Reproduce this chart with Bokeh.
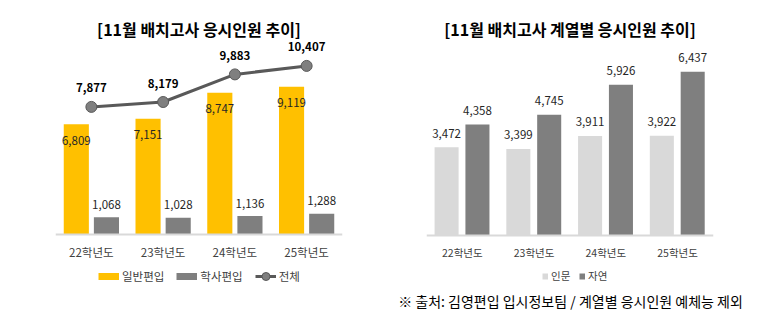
from bokeh.plotting import figure
from bokeh.models import ColumnDataSource, Label, Legend, LegendItem, FactorRange, Range1d
from bokeh.transform import dodge
from bokeh.layouts import row, column
from bokeh.core.properties import value
from bokeh.embed import file_html
from bokeh.resources import INLINE

FONT = "Noto Sans CJK KR"

years = ["22학년도", "23학년도", "24학년도", "25학년도"]
general = [6809, 7151, 8747, 9119]
bachelor = [1068, 1028, 1136, 1288]
total = [7877, 8179, 9883, 10407]
humanities = [3472, 3399, 3911, 3922]
natural = [4358, 4745, 5926, 6437]

title_left = "[11월 배치고사 응시인원 추이]"
title_right = "[11월 배치고사 계열별 응시인원 추이]"
footnote = "※ 출처: 김영편입 입시정보팀 / 계열별 응시인원 예체능 제외"

YELLOW = "#FFC000"
GRAY = "#7F7F7F"
LIGHT = "#D9D9D9"
LINE = "#595959"
TXT = "#262626"
NAN = float("nan")

fmt = lambda v: f"{v:,}"

src1 = ColumnDataSource(dict(
    year=years, general=general, bachelor=bachelor, total=total,
    general_lbl=[fmt(v) for v in general],
    bachelor_lbl=[fmt(v) for v in bachelor],
    total_lbl=[fmt(v) for v in total],
))
src2 = ColumnDataSource(dict(
    year=years, hum=humanities, nat=natural,
    hum_lbl=[fmt(v) for v in humanities],
    nat_lbl=[fmt(v) for v in natural],
))
# legend-only source (nothing drawn in the plot area)
src_leg = ColumnDataSource(dict(year=years, none=[NAN] * len(years)))

H = 290      # chart height
FH = 33      # footnote strip height


def base_fig(y0, y1, left, right, tick_size):
    p = figure(x_range=FactorRange(*years, range_padding=0), y_range=Range1d(y0, y1),
               width=385, height=H, output_backend="svg", toolbar_location=None,
               y_axis_location=None, min_border_left=left, min_border_right=right,
               min_border_top=0, min_border_bottom=0)
    p.xgrid.visible = False
    p.ygrid.visible = False
    p.outline_line_color = None
    ax = p.xaxis[0]
    ax.fixed_location = 0
    ax.axis_line_color = LIGHT
    ax.axis_line_width = 2
    ax.major_tick_line_color = None
    ax.minor_tick_line_color = None
    ax.major_tick_out = 0
    ax.major_label_standoff = 9
    ax.major_label_text_font = FONT
    ax.major_label_text_font_size = tick_size
    ax.major_label_text_color = "#404040"
    return p


# ---------------- left chart ----------------
BASE1 = 234          # baseline, px from top
PX1 = 16.2 / 1000    # px per person
p1 = base_fig(-(H - BASE1) / PX1, BASE1 / PX1, 55, 43, "11.5px")

r_gen = p1.vbar(x=dodge("year", -0.21, range=p1.x_range), top="general", width=0.35,
                source=src1, fill_color=YELLOW, line_color=None)
r_bach = p1.vbar(x=dodge("year", 0.21, range=p1.x_range), top="bachelor", width=0.35,
                 source=src1, fill_color=GRAY, line_color=None)
r_line = p1.line(x="year", y="total", source=src1, line_color=LINE, line_width=3)
r_pts = p1.scatter(x="year", y="total", source=src1, size=11, fill_color=GRAY,
                   line_color=LINE, line_width=1)

p1.text(x=dodge("year", -0.21, range=p1.x_range), y="general", text="general_lbl", source=src1,
        text_align="center", text_baseline="middle", y_offset=16,
        text_font=value(FONT), text_font_size=value("11.5px"), text_color=TXT)
p1.text(x=dodge("year", 0.21, range=p1.x_range), y="bachelor", text="bachelor_lbl", source=src1,
        text_align="center", text_baseline="middle", y_offset=-13,
        text_font=value(FONT), text_font_size=value("11.5px"), text_color=TXT)
p1.text(x="year", y="total", text="total_lbl", source=src1,
        text_align="center", text_baseline="middle", y_offset=-19,
        text_font=value(FONT), text_font_size=value("11.5px"), text_font_style="bold",
        text_color="#000000")

p1.add_layout(Label(x=2, y=(BASE1 - 28) / PX1, text=title_left, text_align="center",
                    text_baseline="middle", text_font=FONT, text_font_size="16px",
                    text_font_style="bold", text_color="#000000"))

lg_gen = p1.line(x="year", y="none", source=src_leg, line_color=YELLOW, line_width=7)
lg_bach = p1.line(x="year", y="none", source=src_leg, line_color=GRAY, line_width=7)

leg1 = Legend(items=[LegendItem(label="일반편입", renderers=[lg_gen]),
                     LegendItem(label="학사편입", renderers=[lg_bach]),
                     LegendItem(label="전체", renderers=[r_line, r_pts])],
              orientation="horizontal", location=(43, 4),
              glyph_width=21, glyph_height=20, label_height=14, label_standoff=3, spacing=12,
              padding=0, margin=0, border_line_color=None, background_fill_alpha=0,
              label_text_font=FONT, label_text_font_size="11.5px", label_text_color="#404040")
p1.add_layout(leg1)

# ---------------- right chart ----------------
BASE2 = 235
PX2 = 25.45 / 1000
p2 = base_fig(-(H - BASE2) / PX2, BASE2 / PX2, 41, 57, "10.5px")

r_hum = p2.vbar(x=dodge("year", -0.22, range=p2.x_range), top="hum", width=0.335,
                source=src2, fill_color=LIGHT, line_color=None)
r_nat = p2.vbar(x=dodge("year", 0.21, range=p2.x_range), top="nat", width=0.335,
                source=src2, fill_color=GRAY, line_color=None)
p2.text(x=dodge("year", -0.22, range=p2.x_range), y="hum", text="hum_lbl", source=src2,
        text_align="center", text_baseline="middle", y_offset=-14,
        text_font=value(FONT), text_font_size=value("11.5px"), text_color=TXT)
p2.text(x=dodge("year", 0.21, range=p2.x_range), y="nat", text="nat_lbl", source=src2,
        text_align="center", text_baseline="middle", y_offset=-14,
        text_font=value(FONT), text_font_size=value("11.5px"), text_color=TXT)

p2.add_layout(Label(x=2, y=(BASE2 - 28) / PX2, text=title_right, text_align="center",
                    text_baseline="middle", text_font=FONT, text_font_size="16px",
                    text_font_style="bold", text_color="#000000"))

lg_hum = p2.line(x="year", y="none", source=src_leg, line_color=LIGHT, line_width=6)
lg_nat = p2.line(x="year", y="none", source=src_leg, line_color=GRAY, line_width=6)
leg2 = Legend(items=[LegendItem(label="인문", renderers=[lg_hum]),
                     LegendItem(label="자연", renderers=[lg_nat])],
              orientation="horizontal", location=(116, 7),
              glyph_width=6, glyph_height=14, label_height=14, label_standoff=3, spacing=8,
              padding=0, margin=0, border_line_color=None, background_fill_alpha=0,
              label_text_font=FONT, label_text_font_size="10.5px", label_text_color="#404040")
p2.add_layout(leg2)

# ---------------- footnote strip ----------------
p3 = figure(width=770, height=FH, x_range=Range1d(0, 770), y_range=Range1d(0, FH),
            output_backend="svg", toolbar_location=None,
            x_axis_location=None, y_axis_location=None,
            min_border_left=0, min_border_right=0, min_border_top=0, min_border_bottom=0)
p3.xgrid.visible = False
p3.ygrid.visible = False
p3.outline_line_color = None
p3.add_layout(Label(x=570, y=FH - (300 - H), text=footnote, text_align="center",
                    text_baseline="middle", text_font=FONT, text_font_size="14px",
                    text_color="#000000"))

layout = column(row(p1, p2), p3)
open("out.html", "w").write(file_html(layout, INLINE))
